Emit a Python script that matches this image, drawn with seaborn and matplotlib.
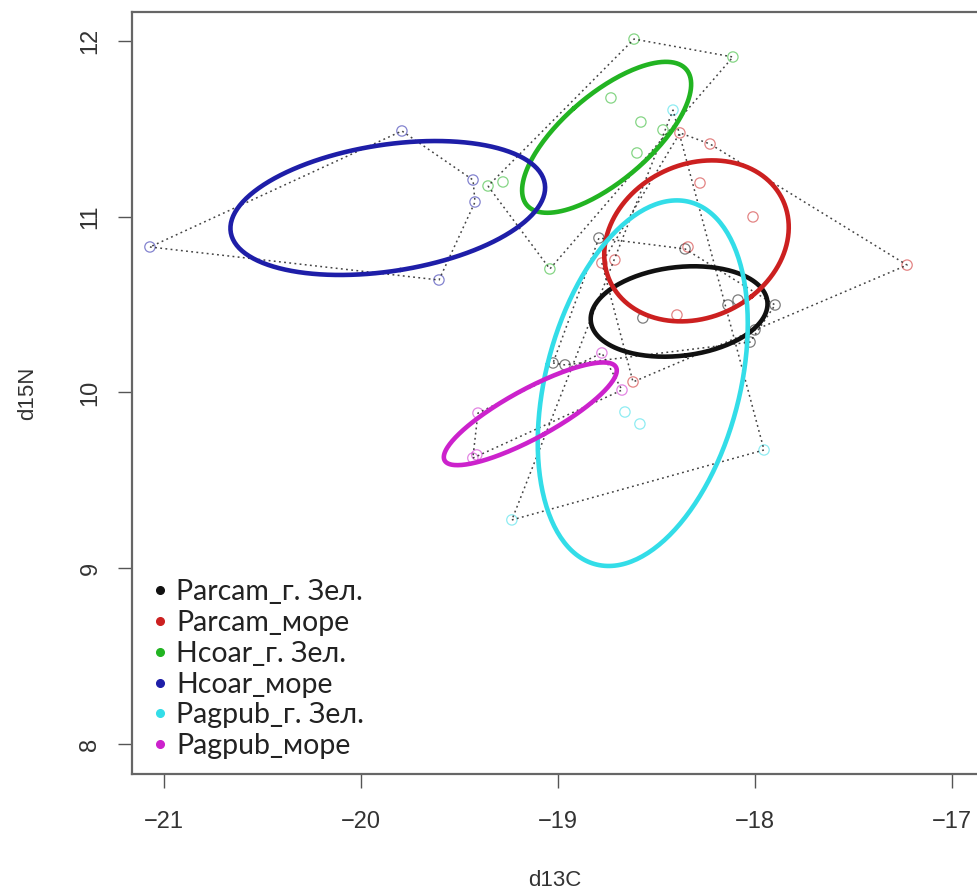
import matplotlib

matplotlib.use("Agg")
import matplotlib.pyplot as plt
import numpy as np
import pandas as pd
import seaborn as sns
from matplotlib.lines import Line2D

GROUPS = ["Parcam_г. Зел.", "Parcam_море", "Hcoar_г. Зел.", "Hcoar_море", "Pagpub_г. Зел.", "Pagpub_море"]
COLORS = ["#111111", "#CC2020", "#22B422", "#1E1EA8", "#33DDE8", "#CC22CC"]

# d13C / d15N per group
parcam_zel_d13c = [-18.792, -18.355, -18.137, -18.086, -17.898, -18.025, -18.000, -19.025, -18.964, -18.569]
parcam_zel_d15n = [10.879, 10.817, 10.498, 10.526, 10.498, 10.287, 10.356, 10.168, 10.157, 10.424]
parcam_sea_d13c = [-18.381, -18.228, -18.279, -18.010, -17.228, -18.777, -18.711, -18.396, -18.619, -18.340]
parcam_sea_d15n = [11.477, 11.414, 11.192, 10.999, 10.725, 10.737, 10.754, 10.441, 10.060, 10.828]
hcoar_zel_d13c = [-18.614, -18.112, -18.731, -18.579, -18.599, -19.355, -19.279, -19.041, -18.467]
hcoar_zel_d15n = [12.011, 11.909, 11.676, 11.539, 11.363, 11.175, 11.198, 10.703, 11.494]
hcoar_sea_d13c = [-21.071, -19.792, -19.431, -19.421, -19.604]
hcoar_sea_d15n = [10.828, 11.488, 11.209, 11.084, 10.640]
pagpub_zel_d13c = [-18.416, -18.660, -18.584, -17.954, -19.234]
pagpub_zel_d15n = [11.607, 9.889, 9.821, 9.673, 9.275]
pagpub_sea_d13c = [-19.432, -19.412, -19.406, -18.777, -18.675]
pagpub_sea_d15n = [9.627, 9.645, 9.883, 10.225, 10.014]

X_TICKS = [-21, -20, -19, -18, -17]
Y_TICKS = [8, 9, 10, 11, 12]


def convex_hull(points: np.ndarray) -> np.ndarray:
    pts = sorted(map(tuple, points))

    def cross(o, a, b):
        return (a[0] - o[0]) * (b[1] - o[1]) - (a[1] - o[1]) * (b[0] - o[0])

    lower, upper = [], []
    for p in pts:
        while len(lower) >= 2 and cross(lower[-2], lower[-1], p) <= 0:
            lower.pop()
        lower.append(p)
    for p in reversed(pts):
        while len(upper) >= 2 and cross(upper[-2], upper[-1], p) <= 0:
            upper.pop()
        upper.append(p)
    hull = lower[:-1] + upper[:-1]
    return np.array(hull + [hull[0]])


def standard_ellipse(x: np.ndarray, y: np.ndarray, steps: int = 240) -> np.ndarray:
    # small-sample corrected standard ellipse (SEAc)
    n = len(x)
    cov = np.cov(x, y) * (n - 1) / (n - 2)
    vals, vecs = np.linalg.eigh(cov)
    t = np.linspace(0, 2 * np.pi, steps)
    circle = np.vstack([np.cos(t), np.sin(t)])
    pts = vecs @ np.diag(np.sqrt(vals)) @ circle
    return np.column_stack([pts[0] + x.mean(), pts[1] + y.mean()])


series = [
    (parcam_zel_d13c, parcam_zel_d15n),
    (parcam_sea_d13c, parcam_sea_d15n),
    (hcoar_zel_d13c, hcoar_zel_d15n),
    (hcoar_sea_d13c, hcoar_sea_d15n),
    (pagpub_zel_d13c, pagpub_zel_d15n),
    (pagpub_sea_d13c, pagpub_sea_d15n),
]
df = pd.concat(
    [pd.DataFrame({"d13C": xs, "d15N": ys, "group": g}) for g, (xs, ys) in zip(GROUPS, series)],
    ignore_index=True,
)

sns.set_theme(style="white")
plt.rcParams["font.family"] = ["Liberation Sans", "DejaVu Sans"]

W, H = 978, 893
fig = plt.figure(figsize=(W / 100, H / 100), dpi=100)
left, right, top, bottom = 132, 978, 12, 774
ax = fig.add_axes([left / W, 1 - bottom / H, (right - left) / W, (bottom - top) / H])

sns.scatterplot(
    data=df, x="d13C", y="d15N", hue="group", hue_order=GROUPS,
    palette=dict(zip(GROUPS, COLORS)), s=55, ax=ax, legend=False, zorder=2,
)
coll = ax.collections[-1]
coll.set_edgecolors(coll.get_facecolors())
coll.set_facecolors("none")
coll.set_linewidth(0.9)
coll.set_alpha(0.55)

for g in GROUPS:
    sub = df[df["group"] == g]
    hull = convex_hull(sub[["d13C", "d15N"]].to_numpy())
    ax.plot(hull[:, 0], hull[:, 1], color="#222222", lw=1.1, ls=(0, (1.2, 2.2)), alpha=0.85, zorder=3)

for g, c in zip(GROUPS, COLORS):
    sub = df[df["group"] == g]
    ell = standard_ellipse(sub["d13C"].to_numpy(), sub["d15N"].to_numpy())
    ax.plot(ell[:, 0], ell[:, 1], color=c, lw=3.3, zorder=4)

ax.set_xlim(-21.162, -21 + (right - 164) / 197)
ax.set_ylim(12 - (bottom - 41) / 175.75, 12 + (41 - top) / 175.75)
ax.set_xticks(X_TICKS)
ax.set_yticks(Y_TICKS)
ax.set_yticklabels([str(v) for v in Y_TICKS], rotation=90, va="center")
ax.tick_params(axis="both", which="major", direction="out", length=10, width=1.0,
               color="#555555", labelsize=17, labelcolor="#333333", bottom=True, left=True)
ax.tick_params(axis="x", pad=17)
ax.tick_params(axis="y", pad=12)
for side in ("left", "bottom", "top"):
    ax.spines[side].set_color("#666666")
    ax.spines[side].set_linewidth(1.6)
ax.spines["right"].set_visible(False)

ax.set_xlabel("d13C", fontsize=16, color="#333333")
ax.set_ylabel("d15N", fontsize=16, color="#333333")
ax.xaxis.set_label_coords(0.5, -(870 - bottom) / (bottom - top))
ax.yaxis.set_label_coords(-(left - 38) / (right - left), 0.5)

handles = [Line2D([], [], marker="o", ls="", markersize=5.5, markerfacecolor=c, markeredgecolor=c) for c in COLORS]
leg = ax.legend(
    handles, GROUPS, loc="upper left", bbox_to_anchor=(152 / W, 1 - 579 / H), bbox_transform=fig.transFigure,
    frameon=False, prop={"family": ["Lato", "DejaVu Sans"], "size": 20.5}, handlelength=0.55,
    handletextpad=0.3, labelspacing=0.17, borderaxespad=0, borderpad=0,
)
for t in leg.get_texts():
    t.set_color("#222222")

fig.savefig("out.png", dpi=100)
